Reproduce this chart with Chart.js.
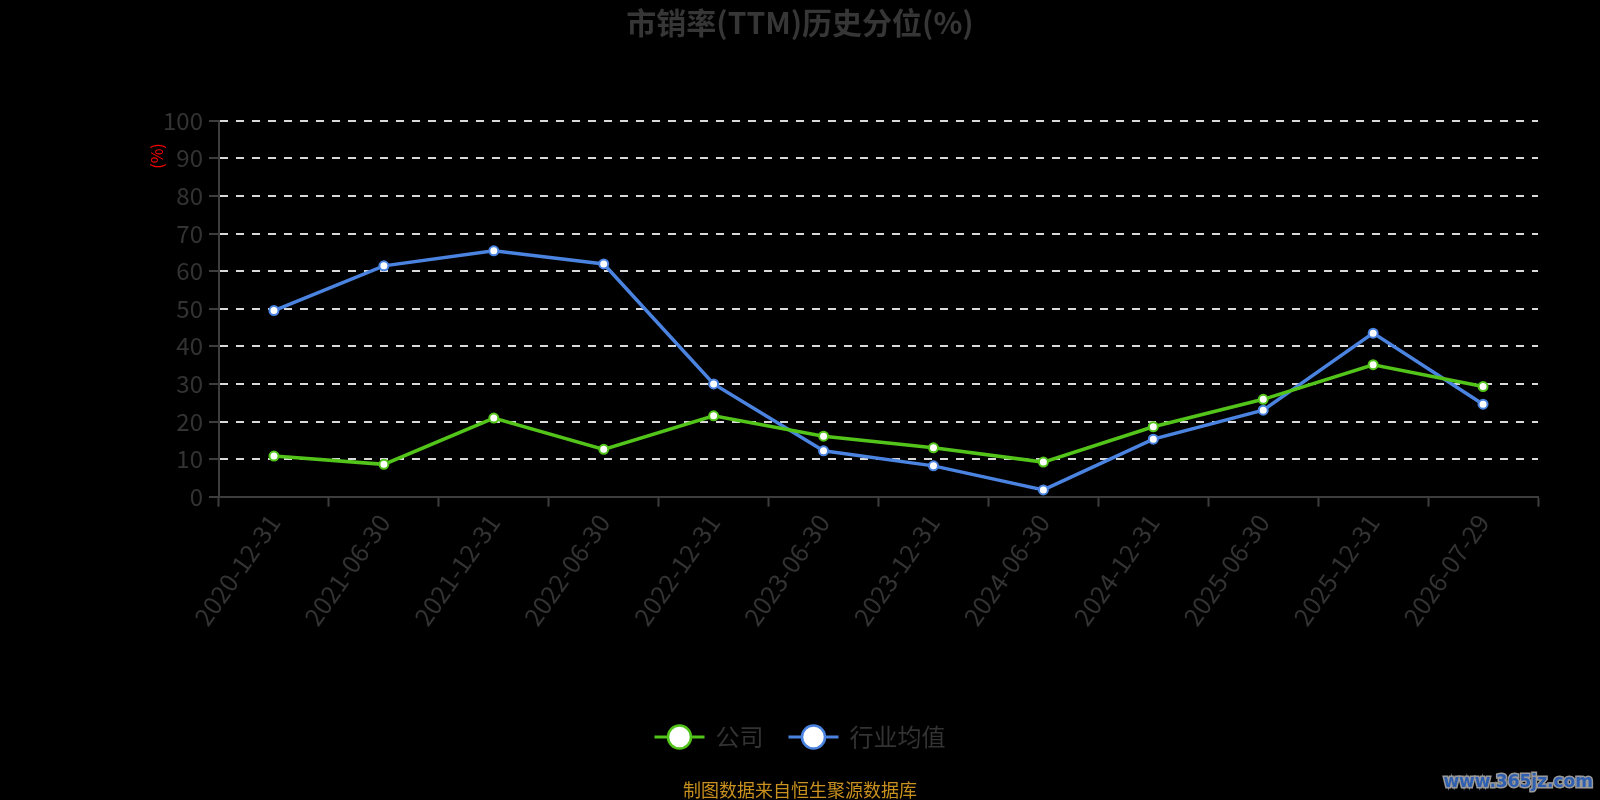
<!DOCTYPE html>
<html>
<head>
<meta charset="utf-8">
<script src="https://cdn.jsdelivr.net/npm/chart.js@4"></script>
<style>
  html, body { margin: 0; padding: 0; background: #000; }
  #wrap { width: 1600px; height: 800px; position: relative; background: #000; }
</style>
</head>
<body>
<div id="wrap"><canvas id="c" width="1600" height="800"></canvas></div>
<script>
const categories = ['2020-12-31','2021-06-30','2021-12-31','2022-06-30','2022-12-31','2023-06-30','2023-12-31','2024-06-30','2024-12-31','2025-06-30','2025-12-31','2026-07-29'];
const companyValues = [10.8, 8.6, 20.9, 12.6, 21.5, 16.1, 13.0, 9.2, 18.6, 25.9, 35.1, 29.3];
const industryValues = [49.5, 61.4, 65.4, 61.9, 30.0, 12.2, 8.2, 1.8, 15.3, 23.0, 43.5, 24.6];
const seriesNames = ['公司', '行业均值'];
const yTicks = [0, 10, 20, 30, 40, 50, 60, 70, 80, 90, 100];
const titleText = '市销率(TTM)历史分位(%)';
const yAxisName = '(%)';
const sourceText = '制图数据来自恒生聚源数据库';
const watermarkText = 'www.365jz.com';

const FONT = '"Noto Sans CJK SC", "Noto Sans", sans-serif';
const GREEN = '#52c41a';
const BLUE = '#4a83e0';
const AXIS = '#3d3d3d';
const LABEL = '#333333';

const decorPlugin = {
  id: 'decor',
  afterDraw(chart) {
    const ctx = chart.ctx;
    ctx.save();
    // title
    ctx.fillStyle = '#363636';
    ctx.font = 'bold 30px ' + FONT;
    ctx.textAlign = 'center';
    ctx.textBaseline = 'middle';
    ctx.fillText(titleText, 800, 23);
    // y axis name
    ctx.save();
    ctx.translate(156.5, 156);
    ctx.rotate(-Math.PI / 2);
    ctx.fillStyle = '#ff0000';
    ctx.font = '16px ' + FONT;
    ctx.fillText(yAxisName, 0, 0);
    ctx.restore();
    // legend
    const items = chart.data.datasets.map(d => ({ label: d.label, color: d.borderColor }));
    ctx.font = '24px ' + FONT;
    ctx.textAlign = 'left';
    const iconW = 50, gapIconText = 11, gapItems = 25;
    let total = 0;
    items.forEach((it, i) => {
      total += iconW + gapIconText + ctx.measureText(it.label).width + (i < items.length - 1 ? gapItems : 0);
    });
    let x = 800 - total / 2;
    const y = 737;
    items.forEach(it => {
      ctx.strokeStyle = it.color;
      ctx.lineWidth = 3;
      ctx.beginPath();
      ctx.moveTo(x, y);
      ctx.lineTo(x + iconW, y);
      ctx.stroke();
      ctx.beginPath();
      ctx.arc(x + iconW / 2, y, 11.5, 0, Math.PI * 2);
      ctx.fillStyle = '#ffffff';
      ctx.fill();
      ctx.lineWidth = 2.5;
      ctx.stroke();
      ctx.fillStyle = LABEL;
      ctx.textBaseline = 'middle';
      ctx.fillText(it.label, x + iconW + gapIconText, y);
      x += iconW + gapIconText + ctx.measureText(it.label).width + gapItems;
    });
    // source
    ctx.textAlign = 'center';
    ctx.fillStyle = '#c8901e';
    ctx.font = '18px ' + FONT;
    ctx.fillText(sourceText, 800, 790);
    // watermark
    ctx.textAlign = 'right';
    ctx.font = 'bold 17px "DejaVu Sans", sans-serif';
    ctx.lineWidth = 3;
    ctx.strokeStyle = '#9a9a9a';
    ctx.strokeText(watermarkText, 1593, 783);
    ctx.fillStyle = '#2f5fb0';
    ctx.fillText(watermarkText, 1593, 783);
    ctx.restore();
  }
};

new Chart(document.getElementById('c'), {
  type: 'line',
  data: {
    labels: categories,
    datasets: [
      {
        label: seriesNames[0],
        data: companyValues,
        borderColor: GREEN,
        backgroundColor: '#ffffff',
        borderWidth: 3.5,
        pointRadius: 4.5,
        pointBorderWidth: 2,
        pointBackgroundColor: '#ffffff',
        pointBorderColor: GREEN,
        tension: 0,
        fill: false
      },
      {
        label: seriesNames[1],
        data: industryValues,
        borderColor: BLUE,
        backgroundColor: '#ffffff',
        borderWidth: 3.5,
        pointRadius: 4.5,
        pointBorderWidth: 2,
        pointBackgroundColor: '#ffffff',
        pointBorderColor: BLUE,
        tension: 0,
        fill: false
      }
    ]
  },
  options: {
    responsive: false,
    animation: false,
    devicePixelRatio: 1,
    layout: { padding: { left: 0, right: 62, top: 120.7, bottom: 0 } },
    plugins: {
      legend: { display: false },
      title: { display: false },
      tooltip: { enabled: false }
    },
    scales: {
      x: {
        type: 'category',
        offset: true,
        grid: {
          offset: true,
          drawOnChartArea: false,
          drawTicks: true,
          tickLength: 10,
          tickColor: AXIS,
          tickWidth: 2,
          color: AXIS
        },
        border: { color: AXIS, width: 2 },
        ticks: {
          color: LABEL,
          font: { size: 25, family: FONT },
          minRotation: 55,
          maxRotation: 55,
          padding: 2,
          autoSkip: false
        },
        afterFit(scale) { scale.height = 303.3; }
      },
      y: {
        min: 0,
        max: 100,
        afterBuildTicks(scale) { scale.ticks = yTicks.map(v => ({ value: v })); },
        grid: {
          color: (c) => (c.tick && c.tick.value === 0) ? 'rgba(0,0,0,0)' : '#d9d9d9',
          lineWidth: 2,
          drawTicks: true,
          tickLength: 10,
          tickColor: AXIS,
          tickWidth: 2,
          tickBorderDash: []
        },
        border: { color: AXIS, width: 2, dash: [8, 8] },
        ticks: {
          color: LABEL,
          font: { size: 24, family: FONT },
          padding: 6
        },
        afterFit(scale) { scale.width = 219; }
      }
    }
  },
  plugins: [decorPlugin]
});
</script>
</body>
</html>
